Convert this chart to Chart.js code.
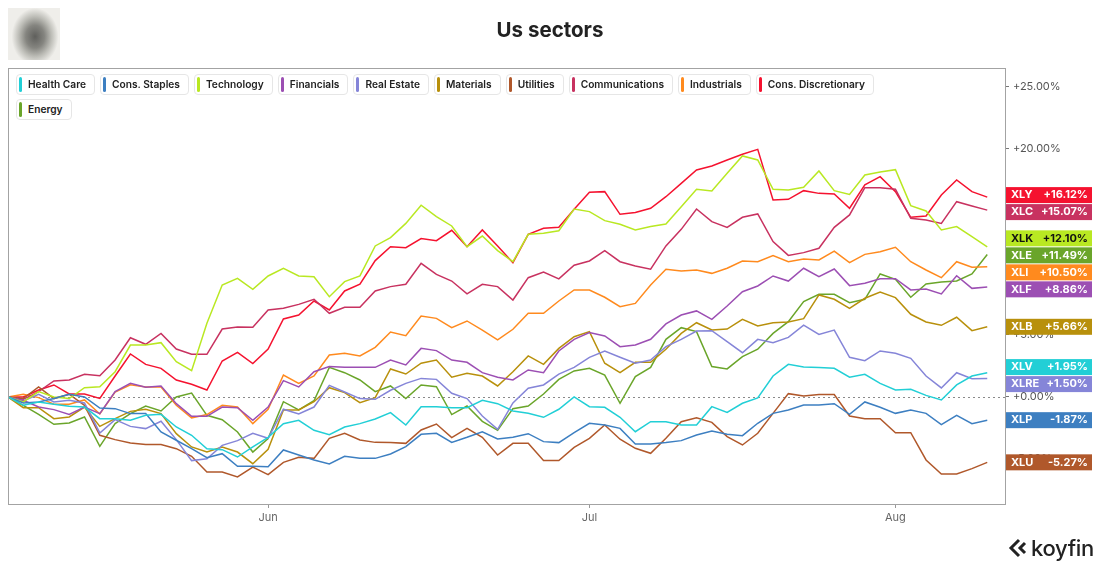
<!DOCTYPE html>
<html>
<head>
<meta charset="utf-8">
<script src="https://cdn.jsdelivr.net/npm/chart.js@4.4.0/dist/chart.umd.min.js"></script>
<style>
  html,body{margin:0;padding:0;background:#fff;}
  body{width:1100px;height:569px;position:relative;overflow:hidden;font-family:Inter,"Noto Sans",sans-serif;}
  #c{position:absolute;left:0;top:0;}
  #title{position:absolute;left:0;top:17px;width:1100px;text-align:center;font-size:20.5px;line-height:26px;font-weight:700;color:#222;}
  #logo{position:absolute;left:8px;top:8px;width:52px;height:52px;
    background:radial-gradient(ellipse 45% 55% at 52% 55%, #5f5f5c 0%, #858580 40%, #bdbdb7 70%, #efeeea 100%);}
  #legend{position:absolute;left:16px;top:74px;width:862px;display:flex;flex-wrap:wrap;gap:4px 5px;}
  .li{position:relative;height:21px;box-sizing:border-box;border:1px solid #e6e6e6;border-radius:4px;background:#fff;
      padding:0 8px 0 11px;font-size:10.2px;font-weight:600;color:#222;line-height:19px;white-space:nowrap;}
  .li i{position:absolute;left:2px;top:2px;width:3px;height:15px;border-radius:2px;}
  #koy{position:absolute;left:1008px;top:535px;display:flex;align-items:center;gap:3px;font-size:22px;color:#222;font-weight:500;letter-spacing:-0.3px;}
</style>
</head>
<body>
<canvas id="c" width="1100" height="569"></canvas>
<div id="logo"></div>
<div id="title">Us sectors</div>
<div id="legend"></div>
<div id="koy"><svg width="20" height="22" viewBox="0 0 20 22"><path d="M11 3 L3 11 L11 19" fill="none" stroke="#222" stroke-width="3"/><path d="M17 6 L12 11 L17 16" fill="none" stroke="#222" stroke-width="3"/></svg><span>koyfin</span></div>
<script>
// ---- categories (trading days) ----
const dates = [
  '2023-05-08','2023-05-09','2023-05-10','2023-05-11','2023-05-12','2023-05-15','2023-05-16','2023-05-17','2023-05-18','2023-05-19',
  '2023-05-22','2023-05-23','2023-05-24','2023-05-25','2023-05-26','2023-05-30','2023-05-31',
  '2023-06-01','2023-06-02','2023-06-05','2023-06-06','2023-06-07','2023-06-08','2023-06-09','2023-06-12','2023-06-13','2023-06-14',
  '2023-06-15','2023-06-16','2023-06-20','2023-06-21','2023-06-22','2023-06-23','2023-06-26','2023-06-27','2023-06-28','2023-06-29','2023-06-30',
  '2023-07-03','2023-07-05','2023-07-06','2023-07-07','2023-07-10','2023-07-11','2023-07-12','2023-07-13','2023-07-14','2023-07-17',
  '2023-07-18','2023-07-19','2023-07-20','2023-07-21','2023-07-24','2023-07-25','2023-07-26','2023-07-27','2023-07-28','2023-07-31',
  '2023-08-01','2023-08-02','2023-08-03','2023-08-04','2023-08-07','2023-08-08','2023-08-09'
];
const monthNames = ['Jan','Feb','Mar','Apr','May','Jun','Jul','Aug','Sep','Oct','Nov','Dec'];
const yTickValues = [-5, 0, 5, 10, 15, 20, 25];

// ---- series (% change) ----
const sectorNames = ['Health Care','Cons. Staples','Technology','Financials','Real Estate','Materials','Utilities','Communications','Industrials','Cons. Discretionary','Energy'];
const tickers     = ['XLV','XLP','XLK','XLF','XLRE','XLB','XLU','XLC','XLI','XLY','XLE'];
const colors      = ['#22cfd6','#3d7fc1','#b9e822','#9c4fb3','#8585d8','#b8900c','#b0582b','#c83260','#ff8a1e','#f5122f','#6aa52a'];
const badgeText   = ['#fff','#fff','#111','#fff','#fff','#fff','#fff','#fff','#fff','#fff','#fff'];

const xlv = [0,-0.67,-0.4,-0.59,-0.75,-0.81,-1.75,-1.75,-1.88,-1.48,-1.4,-2.42,-3.09,-4.17,-4.25,-4.84,-4.03,-3.25,-2.15,-1.88,-2.69,-3.04,-2.42,-2.15,-1.77,-1.26,-2.26,-0.78,-0.78,-0.86,-0.86,-0.27,-0.54,-1.13,-1.32,-1.64,-0.99,0,-0.78,-0.83,-1.64,-2.8,-1.99,-1.99,-2.26,-2.26,-0.78,-1.24,-0.51,-0.08,1.69,2.63,2.42,2.37,2.31,1.59,1.83,1.1,0.56,0.62,0.13,-0.24,0.97,1.69,1.95];
const xlp = [0,-0.48,-0.4,-0.13,0.22,0,-0.89,-0.94,-1.34,-1.34,-2.82,-3.49,-4.17,-4.89,-4.57,-5.59,-5.59,-5.62,-4.27,-4.68,-5.08,-5.4,-4.78,-4.95,-4.95,-4.6,-4.0,-3.01,-2.93,-3.66,-3.25,-2.8,-3.39,-3.25,-2.96,-3.6,-3.68,-2.88,-2.12,-2.26,-2.53,-3.79,-3.79,-3.68,-3.52,-3.06,-2.74,-3.01,-3.12,-2.12,-1.32,-1.05,-0.65,-0.65,-0.54,-1.4,-0.4,-0.83,-1.32,-1.05,-1.32,-2.23,-1.48,-2.15,-1.87];
const xlk = [0,-0.4,0.43,0,-0.13,0.75,0.83,2.04,4.19,4.19,4.38,2.85,2.12,5.94,9.03,9.57,8.68,9.76,10.38,9.76,9.7,8.09,9.3,9.76,12.18,12.85,14.0,15.46,14.54,13.79,12.12,12.98,11.8,10.91,13.12,13.2,13.41,15.16,14.95,14.22,13.93,13.47,13.74,13.95,15.35,16.75,16.61,18.04,19.44,19.11,16.75,16.69,16.91,18.23,16.64,16.34,17.9,18.15,18.33,15.43,15.0,13.47,13.74,12.93,12.10];
const xlf = [0,-0.27,-0.81,-1.02,-1.4,-0.81,-1.34,0.43,1.1,0.78,0.89,-0.54,-1.56,-1.56,-0.81,-0.86,-1.88,-0.81,1.32,0.81,2.04,2.45,2.39,2.39,2.39,2.98,2.58,3.92,3.74,2.98,2.8,1.96,1.59,1.37,2.18,1.96,3.71,4.65,5.19,4.92,4.06,4.19,4.65,5.89,6.61,6.94,6.26,7.34,8.49,8.95,9.76,9.35,10.38,9.7,10.32,8.98,9.17,9.54,9.54,8.63,8.71,8.31,9.78,8.76,8.86];
const xlre = [0,-0.32,0.22,-0.4,-0.27,-0.48,-2.9,-1.83,-2.37,-2.55,-1.96,-3.44,-5.13,-4.99,-3.9,-3.52,-2.93,-3.33,-0.99,-1.37,-0.81,0.94,0.4,-0.13,-0.19,0.54,1.1,1.5,1.42,0.3,-0.13,-1.53,-2.61,-0.48,0.7,0.97,1.85,2.39,3.2,3.71,3.2,2.72,2.98,4.06,4.65,5.32,5.35,4.46,3.57,4.65,4.38,4.81,5.8,5.05,5.4,3.2,2.93,3.71,3.52,3.12,1.69,0.73,1.96,1.48,1.50];
const xlb = [0,-0.86,-0.86,-1.75,-1.61,-0.81,-2.37,-1.75,-1.16,-0.99,-1.34,-2.96,-4.03,-4.44,-4.03,-4.44,-5.38,-4.22,-1.05,-1.05,-0.38,0.75,0.35,-0.46,-0.05,2.26,1.85,2.72,2.98,1.59,1.91,1.69,0.89,2.04,3.31,2.63,3.92,4.86,5.27,2.72,1.96,2.8,2.8,3.85,5.13,5.99,5.4,5.48,6.26,5.73,5.99,6.05,6.32,8.23,7.88,7.15,7.96,8.47,8.01,6.67,6.05,5.78,6.43,5.35,5.66];
const xlu = [0,-0.13,0.81,-0.13,0.22,-0.67,-3.09,-3.44,-3.71,-3.84,-3.84,-4.17,-4.78,-6.05,-6.05,-6.45,-5.65,-6.26,-5.27,-4.87,-4.95,-3.33,-2.93,-3.47,-3.66,-3.68,-3.74,-2.66,-2.18,-3.28,-2.53,-3.25,-4.68,-3.74,-3.74,-5.13,-5.13,-4.06,-3.33,-2.26,-3.41,-4.14,-4.54,-3.33,-1.99,-1.67,-2.05,-3.2,-3.87,-2.93,-1.32,0.27,0.08,0.2,0.2,-1.53,-1.75,-1.75,-2.88,-2.88,-5.08,-6.21,-6.21,-5.78,-5.27];
const xlc = [0,-0.19,0.43,1.29,1.37,1.83,1.72,2.98,4.78,4.25,5.13,3.87,3.44,3.44,5.48,5.65,5.62,7.02,7.15,7.47,7.88,6.75,7.23,7.23,8.55,8.9,9.09,10.78,9.89,9.35,8.31,9.09,8.9,7.82,9.62,10.08,9.52,10.62,10.97,11.8,10.91,10.56,10.3,12.18,13.52,15.16,14.14,13.68,14.49,14.76,12.53,11.42,11.64,11.99,13.68,14.68,16.88,16.88,16.75,14.41,14.27,14.0,15.75,15.4,15.07];
const xli = [0,0.21,-0.05,-0.59,-0.59,-0.24,-1.37,0.4,0.99,0.81,0.81,-0.67,-1.69,-1.42,-0.67,-0.81,-2.15,-0.99,1.77,1.1,1.69,3.39,3.52,3.31,4.0,5.24,4.94,6.53,6.34,5.59,6.13,5.4,4.6,5.46,6.75,6.75,7.74,8.63,8.63,8.04,7.28,7.55,9.03,10.3,10.16,10.24,9.97,10.38,10.97,10.91,11.4,10.91,11.13,11.05,11.77,10.83,11.5,11.72,12.07,10.91,10.24,9.62,10.91,10.46,10.50];
const xly = [0,0,0.56,0.97,0.24,0.24,-0.11,1.69,3.47,2.63,2.31,1.37,1.02,0.56,2.9,3.6,2.69,3.87,6.29,6.61,7.74,7.02,8.55,9.09,11.0,12.12,12.04,12.77,12.6,13.44,12.12,13.47,12.18,10.83,13.12,13.6,13.68,15.14,16.51,16.56,14.73,14.87,15.22,16.15,17.23,18.31,18.63,19.11,19.57,19.97,15.89,15.94,16.64,16.42,16.37,15.22,17.1,17.77,16.56,14.49,14.6,16.29,17.5,16.56,16.12];
const xle = [0,-0.67,-1.4,-2.2,-2.1,-1.61,-3.98,-2.15,-1.34,-0.73,-1.13,0,0.32,-1.48,-1.83,-2.82,-4.44,-3.36,-0.38,-1.05,-0.3,2.39,1.96,1.37,0.43,0.89,-0.13,0.97,0.83,-1.42,-0.73,-1.96,-2.69,-0.94,-0.73,0.24,1.42,2.1,2.31,1.77,-0.51,1.64,2.39,4.65,5.59,5.27,2.45,2.26,3.25,3.85,5.13,6.07,7.69,8.28,8.28,7.61,7.88,9.92,9.49,8.04,9.11,9.27,9.35,9.92,11.49];

const seriesValues = [xlv, xlp, xlk, xlf, xlre, xlb, xlu, xlc, xli, xly, xle];

// ---- derived: month ticks (first trading day of each month after the start) ----
const monthTickIdx = [], monthTickLbl = [];
dates.forEach((d, i) => {
  if (i > 0 && d.slice(5, 7) !== dates[i - 1].slice(5, 7)) {
    monthTickIdx.push(i);
    monthTickLbl.push(monthNames[parseInt(d.slice(5, 7), 10) - 1]);
  }
});

// ---- legend (HTML) ----
const lg = document.getElementById('legend');
sectorNames.forEach((n, k) => {
  const el = document.createElement('div');
  el.className = 'li';
  el.innerHTML = '<i style="background:' + colors[k] + '"></i>' + n;
  lg.appendChild(el);
});

const fmtPct = v => (v >= 0 ? '+' : '') + v.toFixed(2) + '%';

const framePlugin = {
  id: 'frame',
  beforeDatasetsDraw(chart) {
    const { ctx, chartArea: a } = chart;
    const y0 = Math.round(chart.scales.y.getPixelForValue(0)) + 0.5;
    ctx.save();
    ctx.strokeStyle = '#8a8a8a';
    ctx.lineWidth = 1;
    ctx.setLineDash([2, 3]);
    ctx.beginPath(); ctx.moveTo(a.left, y0); ctx.lineTo(a.right, y0); ctx.stroke();
    ctx.restore();
  },
  afterDraw(chart) {
    const { ctx, chartArea: a } = chart;
    const ys = chart.scales.y;
    ctx.save();
    ctx.strokeStyle = '#a3a3a3';
    ctx.lineWidth = 1;
    ctx.strokeRect(Math.round(a.left) + 0.5, Math.round(a.top) + 0.5, Math.round(a.right - a.left), Math.round(a.bottom - a.top));
    // badges
    const H = 17;
    const items = tickers.map((t, k) => {
      const v = seriesValues[k][seriesValues[k].length - 1];
      return { t, v, k, ideal: ys.getPixelForValue(v) };
    }).sort((p, q) => p.ideal - q.ideal);
    let clusters = items.map(it => ({ items: [it], center: it.ideal }));
    let changed = true;
    while (changed) {
      changed = false;
      for (let i = 0; i < clusters.length - 1; i++) {
        const c1 = clusters[i], c2 = clusters[i + 1];
        const b1 = c1.center + c1.items.length * H / 2;
        const t2 = c2.center - c2.items.length * H / 2;
        if (b1 > t2) {
          const all = c1.items.concat(c2.items);
          const center = all.reduce((s, it) => s + it.ideal, 0) / all.length;
          clusters.splice(i, 2, { items: all, center });
          changed = true;
          break;
        }
      }
    }
    const bx = a.right + 1, bw = 86;
    clusters.forEach(c => {
      let top = c.center - c.items.length * H / 2;
      c.items.forEach(it => {
        ctx.fillStyle = colors[it.k];
        ctx.fillRect(bx, top + 0.5, bw, H - 1);
        ctx.fillStyle = badgeText[it.k];
        ctx.font = '700 11px Inter, "Noto Sans", sans-serif';
        ctx.textBaseline = 'middle';
        ctx.textAlign = 'left';
        ctx.fillText(it.t, bx + 5, top + H / 2);
        ctx.textAlign = 'right';
        ctx.fillText(fmtPct(it.v), bx + bw - 4, top + H / 2);
        top += H;
      });
    });
    ctx.restore();
  }
};

new Chart(document.getElementById('c'), {
  type: 'line',
  data: {
    datasets: sectorNames.map((n, k) => ({
      label: n,
      data: seriesValues[k].map((v, i) => ({ x: i, y: v })),
      borderColor: colors[k],
      backgroundColor: colors[k],
      borderWidth: 1.5,
      pointRadius: 0,
      tension: 0,
      fill: false
    }))
  },
  options: {
    responsive: false,
    animation: false,
    devicePixelRatio: 1,
    layout: { padding: { left: 8, top: 68, right: 0, bottom: 0 } },
    plugins: { legend: { display: false }, tooltip: { enabled: false } },
    scales: {
      x: {
        type: 'linear',
        min: 0,
        max: 65.16,
        afterBuildTicks: s => { s.ticks = monthTickIdx.map(v => ({ value: v })); },
        afterFit: s => { s.height = 65; },
        ticks: {
          autoSkip: false, maxRotation: 0, color: '#666', padding: 3,
          font: { family: 'Inter, "Noto Sans", sans-serif', size: 11 },
          callback: (v, i) => monthTickLbl[i]
        },
        grid: { drawOnChartArea: false, drawTicks: true, tickLength: 4, color: '#999' },
        border: { display: false }
      },
      y: {
        position: 'right',
        min: -8.63,
        max: 26.53,
        afterBuildTicks: s => { s.ticks = yTickValues.map(v => ({ value: v })); },
        afterFit: s => { s.width = 95; },
        ticks: {
          color: '#555', padding: 4,
          font: { family: 'Inter, "Noto Sans", sans-serif', size: 11 },
          callback: v => fmtPct(v)
        },
        grid: { drawOnChartArea: false, drawTicks: true, tickLength: 4, color: '#777' },
        border: { display: false }
      }
    }
  },
  plugins: [framePlugin]
});
</script>
</body>
</html>
